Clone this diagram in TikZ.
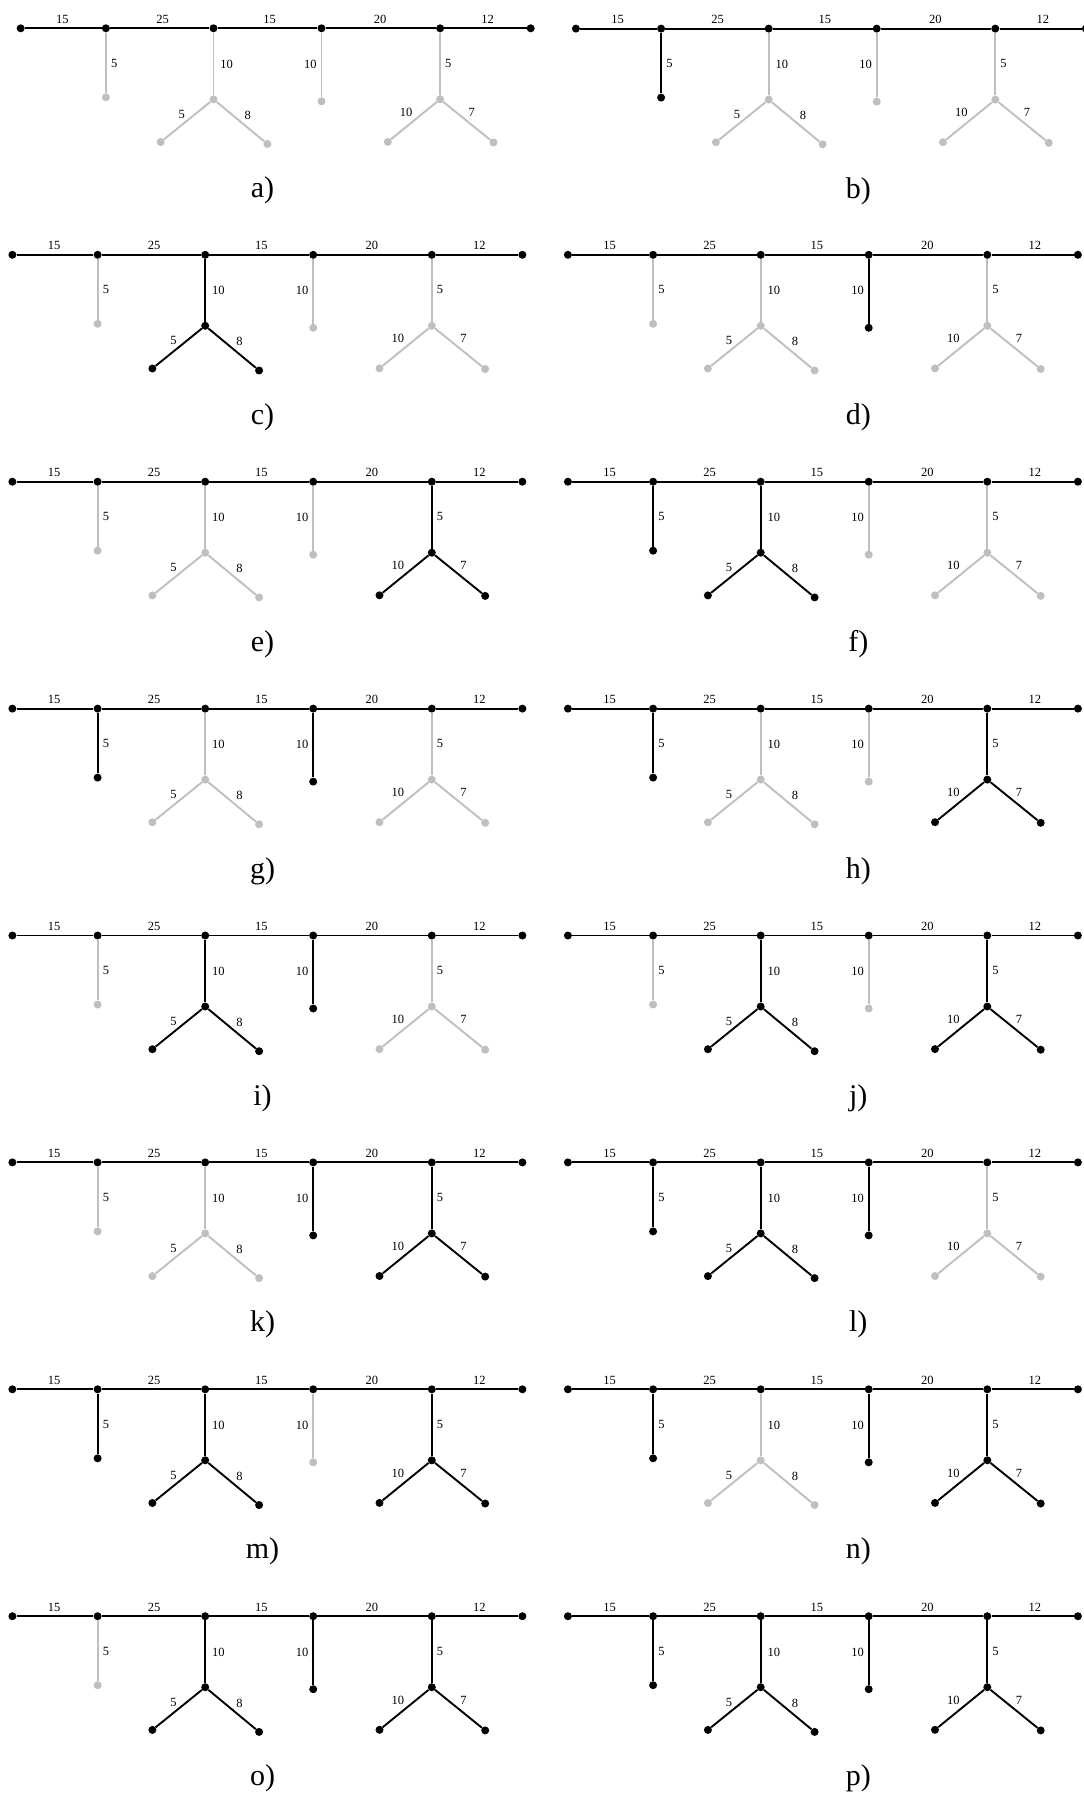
\documentclass[tikz,border=0pt]{standalone}
\usepackage{fontspec}
\setmainfont{Liberation Serif}
\colorlet{gry}{black!25}
\tikzset{
  dot/.style={circle,fill,inner sep=0pt,minimum size=8pt},
  edge/.style={line width=1.9pt},
  num/.style={inner sep=0pt,font=\fontsize{12.5}{14}\selectfont,text=black},
  panelcap/.style={inner sep=0pt,anchor=base,font=\fontsize{30}{34}\selectfont}
}
\newcommand{\treepanel}[9]{%
\begin{scope}[shift={(#2,#3)}]
  \node[dot] (#1m0) at (0,0) {};
  \node[dot] (#1m1) at (85.2,0) {};
  \node[dot] (#1m2) at (192.8,0) {};
  \node[dot] (#1m3) at (300.8,0) {};
  \node[dot] (#1m4) at (419.4,0) {};
  \node[dot] (#1m5) at (510,0) {};
  \node[dot,#4] (#1a) at (85.2,69) {};
  \node[dot,#5] (#1b) at (192.8,71) {};
  \node[dot,#5] (#1bl) at (140,113.7) {};
  \node[dot,#5] (#1br) at (246.7,115.7) {};
  \node[dot,#6] (#1c) at (300.8,73) {};
  \node[dot,#7] (#1d) at (419.4,71) {};
  \node[dot,#7] (#1dl) at (367.1,113.6) {};
  \node[dot,#7] (#1dr) at (472.8,114.2) {};
  \draw[edge] (#1m0) -- (#1m1) -- (#1m2) -- (#1m3) -- (#1m4) -- (#1m5);
  \draw[edge,#4] (#1m1) -- (#1a);
  \draw[edge,#5] (#1m2) -- (#1b);
  \draw[edge,#5] (#1b) -- (#1bl);
  \draw[edge,#5] (#1b) -- (#1br);
  \draw[edge,#6] (#1m3) -- (#1c);
  \draw[edge,#7] (#1m4) -- (#1d);
  \draw[edge,#7] (#1d) -- (#1dl);
  \draw[edge,#7] (#1d) -- (#1dr);
  \node[num] (#1t1) at (41.7,-9.2) {15};
  \node[num] (#1t2) at (141.8,-9.2) {25};
  \node[num] (#1t3) at (248.9,-9.2) {15};
  \node[num] (#1t4) at (359.5,-9.2) {20};
  \node[num] (#1t5) at (467,-9.2) {12};
  \node[num] (#1t6) at (93.6,35) {5};
  \node[num] (#1t7) at (206,36) {10};
  \node[num] (#1t8) at (289.7,36) {10};
  \node[num] (#1t9) at (427.6,35) {5};
  \node[num] (#1t10) at (161,86) {5};
  \node[num] (#1t11) at (227,86.7) {8};
  \node[num] (#1t12) at (385.5,84) {10};
  \node[num] (#1t13) at (451.1,84) {7};
  \node[panelcap] (#1cap) at ({#9-#2},169.5) {#8};
\end{scope}}
\begin{document}
\begin{tikzpicture}[x=1pt,y=-1pt]
\useasboundingbox (0,0) rectangle (1084,1796);
\treepanel{pa}{20.7}{28.3}{gry}{gry}{gry}{gry}{a)}{262.5}
\treepanel{pb}{575.9}{28.6}{black}{gry}{gry}{gry}{b)}{858.3}
\treepanel{pc}{12.4}{254.8}{gry}{black}{gry}{gry}{c)}{262.5}
\treepanel{pd}{567.9}{254.8}{gry}{gry}{black}{gry}{d)}{858.3}
\treepanel{pe}{12.4}{481.7}{gry}{gry}{gry}{black}{e)}{262.5}
\treepanel{pf}{567.9}{481.7}{black}{black}{gry}{gry}{f)}{858.3}
\treepanel{pg}{12.4}{708.6}{black}{gry}{black}{gry}{g)}{262.5}
\treepanel{ph}{567.9}{708.6}{black}{gry}{gry}{black}{h)}{858.3}
\treepanel{pi}{12.4}{935.5}{gry}{black}{black}{gry}{i)}{262.5}
\treepanel{pj}{567.9}{935.5}{gry}{black}{gry}{black}{j)}{858.3}
\treepanel{pk}{12.4}{1162.4}{gry}{gry}{black}{black}{k)}{262.5}
\treepanel{pl}{567.9}{1162.4}{black}{black}{black}{gry}{l)}{858.3}
\treepanel{pm}{12.4}{1389.3}{black}{black}{gry}{black}{m)}{262.5}
\treepanel{pn}{567.9}{1389.3}{black}{gry}{black}{black}{n)}{858.3}
\treepanel{po}{12.4}{1616.2}{gry}{black}{black}{black}{o)}{262.5}
\treepanel{pp}{567.9}{1616.2}{black}{black}{black}{black}{p)}{858.3}
\end{tikzpicture}
\end{document}
